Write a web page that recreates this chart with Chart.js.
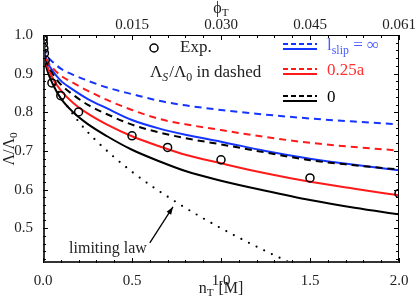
<!DOCTYPE html>
<html>
<head>
<meta charset="utf-8">
<script src="https://cdn.jsdelivr.net/npm/chart.js@4.4.0/dist/chart.umd.min.js"></script>
<style>
  html, body { margin: 0; padding: 0; background: #fff; }
  #wrap { width: 416px; height: 299px; }
</style>
</head>
<body>
<div id="wrap"><canvas id="condChart" width="416" height="299"></canvas></div>
<script>
// Conductivity ratio vs total salt concentration
const nGrid = [0, 0.003, 0.01, 0.025, 0.058, 0.1, 0.17, 0.25, 0.36, 0.5, 0.66, 0.8, 1.0, 1.25, 1.5, 1.75, 2.0];

const blueDashed  = [1.0, 0.975, 0.96, 0.945, 0.929, 0.913, 0.897, 0.882, 0.864, 0.847, 0.829, 0.818, 0.806, 0.794, 0.784, 0.776, 0.769];
const redDashed   = [1.0, 0.970, 0.952, 0.933, 0.913, 0.895, 0.876, 0.856, 0.832, 0.806, 0.782, 0.769, 0.754, 0.736, 0.721, 0.710, 0.701];
const blackDashed = [1.0, 0.965, 0.948, 0.925, 0.897, 0.872, 0.845, 0.820, 0.795, 0.768, 0.747, 0.733, 0.717, 0.696, 0.676, 0.663, 0.652];
const blueSolid   = [1.0, 0.968, 0.952, 0.930, 0.905, 0.882, 0.858, 0.835, 0.810, 0.780, 0.757, 0.742, 0.724, 0.700, 0.680, 0.664, 0.650];
const redSolid    = [1.0, 0.962, 0.942, 0.918, 0.885, 0.857, 0.824, 0.797, 0.768, 0.738, 0.711, 0.690, 0.668, 0.642, 0.620, 0.602, 0.585];
const blackSolid  = [1.0, 0.958, 0.935, 0.907, 0.870, 0.836, 0.800, 0.770, 0.738, 0.703, 0.672, 0.648, 0.623, 0.597, 0.573, 0.553, 0.536];

const expN   = [0.0005, 0.001, 0.002, 0.005, 0.008, 0.013, 0.05, 0.1, 0.2, 0.5, 0.7, 1.0, 1.5, 2.0];
const expVal = [0.995, 0.988, 0.978, 0.965, 0.953, 0.935, 0.876, 0.843, 0.801, 0.739, 0.709, 0.677, 0.630, 0.590];

const limN   = [0, 0.01, 0.05, 0.1, 0.2, 0.3, 0.5, 0.75, 1.0, 1.25, 1.45];
const limVal = [1.0, 0.95, 0.888, 0.842, 0.776, 0.726, 0.646, 0.567, 0.500, 0.441, 0.398];

const xTicks = [0, 0.5, 1.0, 1.5, 2.0];
const yTicks = [0.5, 0.6, 0.7, 0.8, 0.9, 1.0];
const topTickPos = [0.5, 1.0, 1.5, 2.0];
const topTickLabels = ["0.015", "0.030", "0.045", "0.061"];

const BLUE = "#1434ff";
const RED = "#ff1a1a";
const BLACK = "#000";
const FONT = "'Liberation Serif', 'Times New Roman', serif";

const pts = (xs, ys) => xs.map((x, i) => ({ x: x, y: ys[i] }));

function curve(data, color, dashed) {
  return {
    data: data,
    borderColor: color,
    borderWidth: 2,
    borderDash: dashed ? [7, 5] : [],
    pointRadius: 0,
    cubicInterpolationMode: "monotone",
    fill: false,
  };
}

// draws text with subscripts: parts = [[text, isSub, italic, gapAfter], ...]
function richText(ctx, parts, x, y, size, color, align) {
  ctx.save();
  ctx.fillStyle = color;
  ctx.textBaseline = "middle";
  ctx.textAlign = "left";
  const fontOf = p => (p[2] ? "italic " : "") + (p[1] ? size * 0.7 : size) + "px " + FONT;
  let w = 0;
  parts.forEach(p => {
    ctx.font = fontOf(p);
    w += ctx.measureText(p[0]).width + (p[3] || 0);
  });
  let cx = align === "center" ? x - w / 2 : x;
  parts.forEach(p => {
    ctx.font = fontOf(p);
    ctx.fillText(p[0], cx, p[1] ? y + size * 0.28 : y);
    cx += ctx.measureText(p[0]).width + (p[3] || 0);
  });
  ctx.restore();
}

const decorPlugin = {
  id: "decor",
  afterDatasetsDraw(chart) {
    const ctx = chart.ctx;
    const a = chart.chartArea;
    const xs = chart.scales.x, ys = chart.scales.y;

    // frame
    ctx.save();
    ctx.strokeStyle = "#000";
    ctx.lineWidth = 1;
    ctx.strokeRect(a.left + 0.5, a.top + 0.5, a.right - a.left - 1, a.bottom - a.top - 1);
    ctx.strokeStyle = "#333";
    ctx.lineWidth = 2;
    ctx.beginPath();
    ctx.moveTo(a.left + 1, a.top);
    ctx.lineTo(a.left + 1, a.bottom - 1);
    ctx.lineTo(a.right, a.bottom - 1);
    ctx.stroke();

    // inward ticks
    ctx.strokeStyle = "#000";
    ctx.lineWidth = 1;
    ctx.beginPath();
    for (let v = 0; v <= 2.0001; v += 0.1) {
      const major = Math.abs(v * 2 - Math.round(v * 2)) < 1e-6;
      const px = Math.round(xs.getPixelForValue(v)) + 0.5;
      const len = major ? 5 : 3;
      ctx.moveTo(px, a.bottom); ctx.lineTo(px, a.bottom - len);
      ctx.moveTo(px, a.top); ctx.lineTo(px, a.top + len);
    }
    for (let v = 0.42; v <= 1.0001; v += 0.02) {
      const major = Math.abs(v * 10 - Math.round(v * 10)) < 1e-6;
      const py = Math.round(ys.getPixelForValue(v)) + 0.5;
      const len = major ? 5 : 3;
      ctx.moveTo(a.left, py); ctx.lineTo(a.left + len, py);
      ctx.moveTo(a.right, py); ctx.lineTo(a.right - len, py);
    }
    ctx.stroke();
    ctx.restore();

    // top axis labels (phi_T)
    ctx.save();
    ctx.font = "15px " + FONT;
    ctx.fillStyle = "#222";
    ctx.textAlign = "center";
    ctx.textBaseline = "middle";
    topTickPos.forEach((v, i) => ctx.fillText(topTickLabels[i], xs.getPixelForValue(v), a.top - 10));
    ctx.restore();

    // legend
    const lx0 = a.left + 240, lx1 = a.left + 274;
    const rows = [
      { y: a.top + 9, color: BLUE },
      { y: a.top + 34, color: RED },
      { y: a.top + 61, color: BLACK },
    ];
    ctx.save();
    ctx.lineWidth = 2;
    rows.forEach(r => {
      ctx.strokeStyle = r.color;
      ctx.setLineDash([5, 3]);
      ctx.beginPath(); ctx.moveTo(lx0, r.y); ctx.lineTo(lx1, r.y); ctx.stroke();
      ctx.setLineDash([]);
      ctx.beginPath(); ctx.moveTo(lx0, r.y + 5); ctx.lineTo(lx1, r.y + 5); ctx.stroke();
    });
    ctx.restore();
    richText(ctx, [["l", false], ["slip", true], [" = \u221E", false]], a.left + 284, rows[0].y + 2, 17, "#4a5cff", "left");
    richText(ctx, [["0.25a", false]], a.left + 284, rows[1].y + 2, 17, "#ff3030", "left");
    richText(ctx, [["0", false]], a.left + 284, rows[2].y + 2, 17, BLACK, "left");

    ctx.save();
    ctx.strokeStyle = "#000";
    ctx.lineWidth = 1.5;
    ctx.beginPath(); ctx.arc(a.left + 111, a.top + 13, 4, 0, Math.PI * 2); ctx.stroke();
    ctx.restore();
    richText(ctx, [["Exp.", false]], a.left + 137, a.top + 13, 17, "#222", "left");
    richText(ctx, [["\u039B", false], ["S", true, true, 1], ["/\u039B", false], ["0", true], [" in dashed", false]],
      a.left + 107, a.top + 38, 17, "#222", "left");

    // limiting law annotation
    const tipX = xs.getPixelForValue(0.73), tipY = ys.getPixelForValue(0.555);
    const tailX = xs.getPixelForValue(0.6), tailY = ys.getPixelForValue(0.462);
    ctx.save();
    ctx.strokeStyle = "#000";
    ctx.fillStyle = "#000";
    ctx.lineWidth = 1.3;
    ctx.beginPath(); ctx.moveTo(tailX, tailY); ctx.lineTo(tipX, tipY); ctx.stroke();
    const ang = Math.atan2(tipY - tailY, tipX - tailX);
    ctx.beginPath();
    ctx.moveTo(tipX, tipY);
    ctx.lineTo(tipX - 8 * Math.cos(ang - 0.35), tipY - 8 * Math.sin(ang - 0.35));
    ctx.lineTo(tipX - 8 * Math.cos(ang + 0.35), tipY - 8 * Math.sin(ang + 0.35));
    ctx.closePath(); ctx.fill();
    ctx.restore();
    richText(ctx, [["limiting law", false]], xs.getPixelForValue(0.365), ys.getPixelForValue(0.448), 16, "#222", "center");
  },
  afterDraw(chart) {
    const ctx = chart.ctx;
    const a = chart.chartArea;
    const midX = (a.left + a.right) / 2;
    richText(ctx, [["n", false], ["T", true, false, 5], ["[M]", false]], midX, 289, 16, "#222", "center");
    richText(ctx, [["\u03D5", false], ["T", true]], midX, 9, 16, "#222", "center");
    ctx.save();
    ctx.translate(10, (a.top + a.bottom) / 2);
    ctx.rotate(-Math.PI / 2);
    richText(ctx, [["\u039B/\u039B", false], ["0", true]], 0, 0, 16, "#222", "center");
    ctx.restore();
  },
};

const tickFont = { family: FONT, size: 15 };

const condChart = new Chart(document.getElementById("condChart").getContext("2d"), {
  type: "line",
  data: {
    datasets: [
      {
        data: pts(expN, expVal),
        showLine: false,
        pointRadius: 4,
        pointBorderWidth: 1.5,
        pointBorderColor: "#000",
        pointBackgroundColor: "rgba(0,0,0,0)",
      },
      curve(pts(nGrid, blueDashed), BLUE, true),
      curve(pts(nGrid, redDashed), RED, true),
      curve(pts(nGrid, blackDashed), BLACK, true),
      curve(pts(nGrid, blueSolid), BLUE, false),
      curve(pts(nGrid, redSolid), RED, false),
      curve(pts(nGrid, blackSolid), BLACK, false),
      {
        data: pts(limN, limVal),
        borderColor: "#000",
        borderWidth: 2.2,
        borderDash: [0, 8.5],
        borderCapStyle: "round",
        pointRadius: 0,
        cubicInterpolationMode: "monotone",
      },
    ],
  },
  options: {
    responsive: false,
    animation: false,
    layout: { padding: { left: 0, right: 17, top: 0, bottom: 0 } },
    plugins: {
      legend: { display: false },
      tooltip: { enabled: false },
    },
    scales: {
      x: {
        type: "linear",
        position: "bottom",
        min: 0,
        max: 2,
        grid: { display: false },
        border: { display: false },
        ticks: { font: tickFont, color: "#222", padding: 1, maxRotation: 0, callback: v => v.toFixed(1) },
        afterBuildTicks: s => { s.ticks = xTicks.map(v => ({ value: v })); },
        afterFit: s => { s.height = 36; },
      },
      x2: {
        type: "linear",
        position: "top",
        min: 0,
        max: 2,
        grid: { display: false },
        border: { display: false },
        ticks: { display: false },
        afterFit: s => { s.height = 35; },
      },
      y: {
        min: 0.41,
        max: 1.0,
        grid: { display: false },
        border: { display: false },
        ticks: { font: tickFont, color: "#222", padding: 2, callback: v => v.toFixed(1) },
        afterBuildTicks: s => { s.ticks = yTicks.map(v => ({ value: v })); },
        afterFit: s => { s.width = 43; },
      },
    },
  },
  plugins: [decorPlugin],
});
</script>
</body>
</html>
